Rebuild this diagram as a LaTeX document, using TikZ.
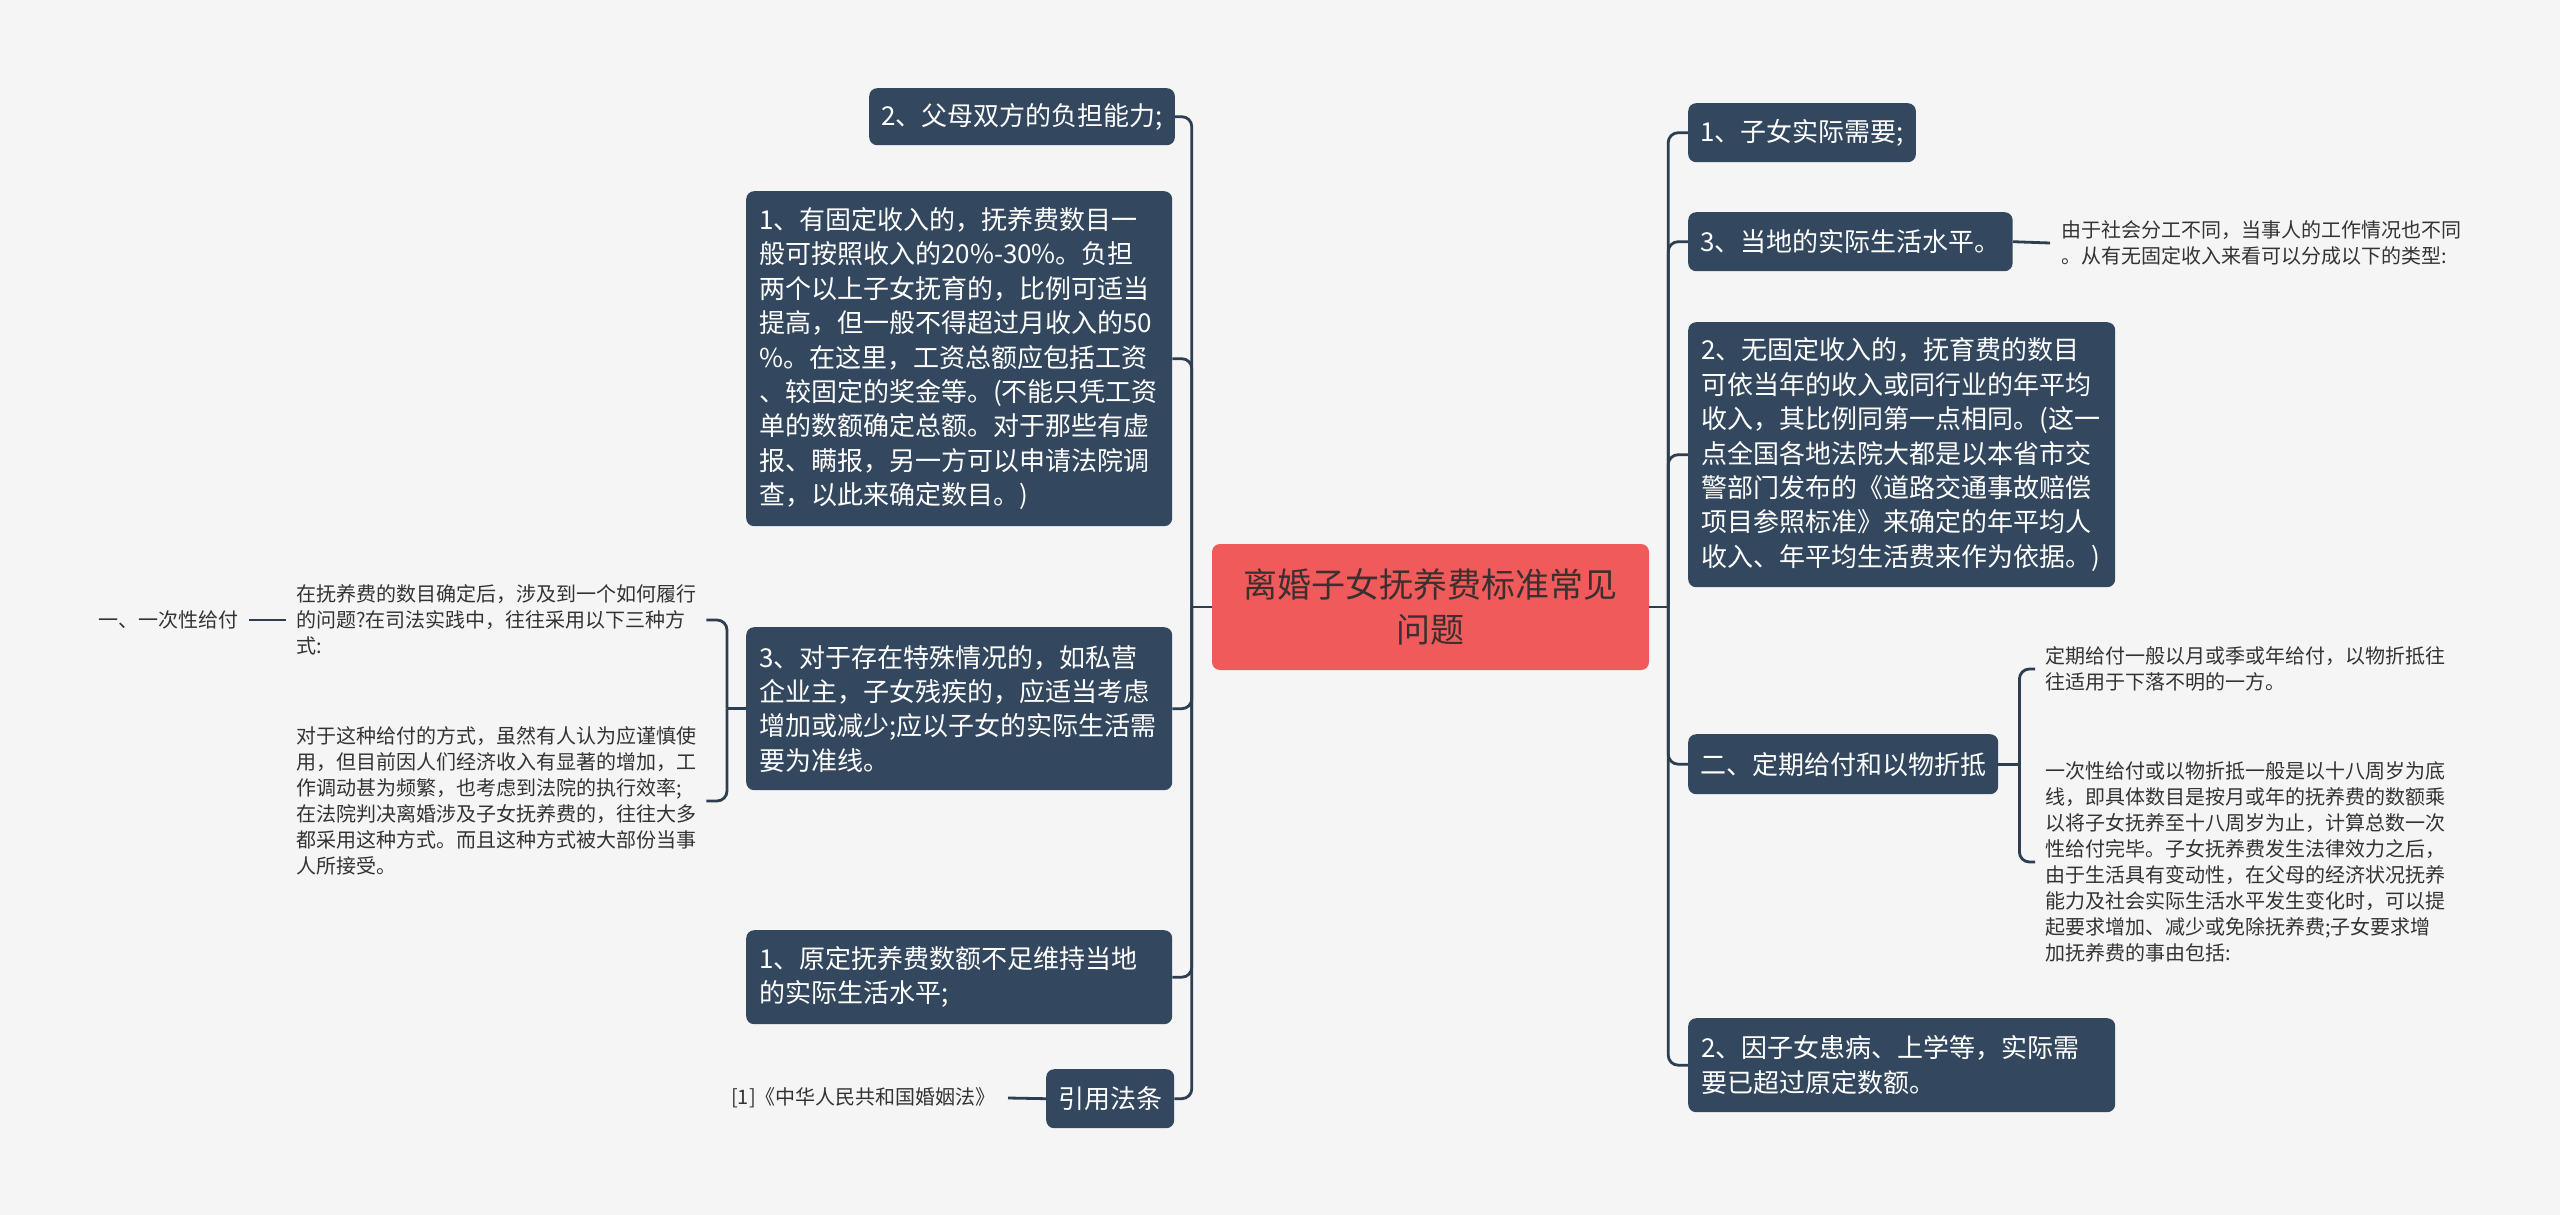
\documentclass[tikz,border=0pt]{standalone}
\usepackage{fontspec}
\setmainfont{Noto Sans CJK SC}
\usetikzlibrary{positioning}

\definecolor{bggray}{HTML}{F5F5F5}
\definecolor{boxblue}{HTML}{33485E}
\definecolor{linecol}{HTML}{2C3E50}
\definecolor{rootred}{HTML}{F05A5A}
\definecolor{roottext}{HTML}{3B2F2F}
\definecolor{notegray}{HTML}{333333}

\begin{document}
\begin{tikzpicture}[x=1pt, y=-1pt,
    box/.style={fill=boxblue, rounded corners=8pt, text=white, font=\fontsize{26}{34.4}\selectfont, inner xsep=12pt, inner ysep=4pt, anchor=north west},
    textbox/.style={text width=#1, align=left, inner xsep=13pt},
    root/.style={fill=rootred, rounded corners=8pt, text=roottext, font=\fontsize{34}{45}\selectfont, align=center},
    note/.style={text=notegray, font=\fontsize{20}{26}\selectfont, align=left, inner ysep=2pt},
    link/.style={draw=linecol, line width=2.8pt, rounded corners=10pt}
]
    % Background
    \fill[bggray] (0,0) rectangle (2560,1215);

    % Central topic
    \node[root, minimum width=437pt, minimum height=126pt] (root) at (1430.5,607) {离婚子女抚养费标准常见\\问题};

    % Left branches
    \node[box, minimum width=303pt, minimum height=57pt] (ability) at (869,88) {2、父母双方的负担能力;};
    \node[box, textbox=400pt, minimum height=335pt] (fixed) at (746,191) {1、有固定收入的，抚养费数目一\\般可按照收入的20\%-30\%。负担\\两个以上子女抚育的，比例可适当\\提高，但一般不得超过月收入的50\\\%。在这里，工资总额应包括工资\\、较固定的奖金等。(不能只凭工资\\单的数额确定总额。对于那些有虚\\报、瞒报，另一方可以申请法院调\\查，以此来确定数目。)};
    \node[box, textbox=400pt, minimum height=163pt] (special) at (746,627) {3、对于存在特殊情况的，如私营\\企业主，子女残疾的，应适当考虑\\增加或减少;应以子女的实际生活需\\要为准线。};
    \node[box, textbox=400pt, minimum height=94pt] (shortfall) at (746,930) {1、原定抚养费数额不足维持当地\\的实际生活水平;};
    \node[box, minimum width=126pt, minimum height=59pt] (lawref) at (1046,1069) {引用法条};

    % Right branches
    \node[box, minimum width=226pt, minimum height=59pt] (needs) at (1688,103) {1、子女实际需要;};
    \node[box, minimum width=323pt, minimum height=59pt] (living) at (1688,212) {3、当地的实际生活水平。};
    \node[box, textbox=401pt, minimum height=265pt] (nofixed) at (1688,322) {2、无固定收入的，抚育费的数目\\可依当年的收入或同行业的年平均\\收入，其比例同第一点相同。(这一\\点全国各地法院大都是以本省市交\\警部门发布的《道路交通事故赔偿\\项目参照标准》来确定的年平均人\\收入、年平均生活费来作为依据。)};
    \node[box, minimum width=308pt, minimum height=60pt] (periodic) at (1688,734) {二、定期给付和以物折抵};
    \node[box, textbox=401pt, minimum height=94pt] (illness) at (1688,1018) {2、因子女患病、上学等，实际需\\要已超过原定数额。};

    % Notes
    \node[note, anchor=west, inner xsep=10pt] (mannerq) at (286,620) {在抚养费的数目确定后，涉及到一个如何履行\\的问题?在司法实践中，往往采用以下三种方\\式:};
    \node[note, anchor=west, inner xsep=10pt] (mannerc) at (286,801) {对于这种给付的方式，虽然有人认为应谨慎使\\用，但目前因人们经济收入有显著的增加，工\\作调动甚为频繁，也考虑到法院的执行效率;\\在法院判决离婚涉及子女抚养费的，往往大多\\都采用这种方式。而且这种方式被大部份当事\\人所接受。};
    \node[note, anchor=east, inner xsep=10pt] (lumpsum) at (249,620) {一、一次性给付};
    \node[note, anchor=east, inner xsep=12pt] (lawcite) at (1008,1098) {[1]《中华人民共和国婚姻法》};
    \node[note, anchor=west, inner xsep=11pt] (livingnote) at (2050,243) {由于社会分工不同，当事人的工作情况也不同\\。从有无固定收入来看可以分成以下的类型:};
    \node[note, anchor=west, inner xsep=10pt] (periodicnote) at (2035,669) {定期给付一般以月或季或年给付，以物折抵往\\往适用于下落不明的一方。};
    \node[note, anchor=west, inner xsep=10pt] (lumpnote) at (2035,862) {一次性给付或以物折抵一般是以十八周岁为底\\线，即具体数目是按月或年的抚养费的数额乘\\以将子女抚养至十八周岁为止，计算总数一次\\性给付完毕。子女抚养费发生法律效力之后，\\由于生活具有变动性，在父母的经济状况抚养\\能力及社会实际生活水平发生变化时，可以提\\起要求增加、减少或免除抚养费;子女要求增\\加抚养费的事由包括:};

    % Fork points
    \coordinate[left=20pt of root.west] (lspine);
    \coordinate[right=19pt of root.east] (rspine);
    \coordinate[left=19pt of special.west] (sfork);
    \coordinate[right=21pt of periodic.east] (pfork);

    % Connectors
    \draw[link] (root.west) -- (lspine);
    \foreach \n in {ability,fixed,special,shortfall,lawref}
        \draw[link] (lspine) |- (\n.east);
    \draw[link] (root.east) -- (rspine);
    \foreach \n in {needs,living,nofixed,periodic,illness}
        \draw[link] (rspine) |- (\n.west);
    \draw[link] (special.west) -- (sfork);
    \draw[link] (sfork) |- (mannerq.east);
    \draw[link] (sfork) |- (mannerc.east);
    \draw[link] (mannerq.west) -- (lumpsum.east);
    \draw[link] (lawref.west) -- (lawcite.east);
    \draw[link] (living.east) -- (livingnote.west);
    \draw[link] (periodic.east) -- (pfork);
    \draw[link] (pfork) |- (periodicnote.west);
    \draw[link] (pfork) |- (lumpnote.west);
\end{tikzpicture}
\end{document}
